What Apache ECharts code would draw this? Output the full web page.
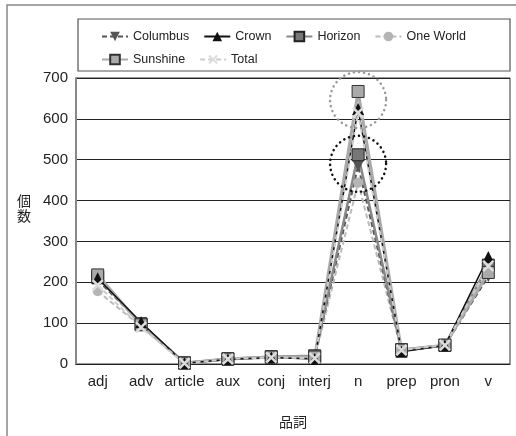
<!DOCTYPE html>
<html>
<head>
<meta charset="utf-8">
<script src="https://cdn.jsdelivr.net/npm/echarts@6/dist/echarts.min.js"></script>
<style>
  html, body { margin: 0; padding: 0; background: #fff; }
  #chart { width: 516px; height: 436px; }
</style>
</head>
<body>
<div id="chart"></div>
<script>
  // 品詞ごとの個数
  var categories = ['adj', 'adv', 'article', 'aux', 'conj', 'interj', 'n', 'prep', 'pron', 'v']
  var columbus = [205, 100, 2, 12, 17, 18, 485, 33, 45, 215]
  var crown = [210, 102, 2, 11, 16, 12, 624, 30, 45, 262]
  var horizon = [212, 98, 3, 13, 18, 20, 512, 35, 46, 242]
  var oneWorld = [178, 92, 2, 11, 15, 14, 444, 32, 44, 220]
  var sunshine = [218, 96, 2, 12, 17, 17, 667, 34, 46, 224]
  var total = [193, 90, 2, 12, 16, 14, 615, 34, 46, 240]
  var yTicks = [0, 100, 200, 300, 400, 500, 600, 700]
  // 点線の丸（注釈）
  var circleGray = ['n', 646]
  var circleBlack = ['n', 490]

  var font = 'Liberation Sans'
  var crossPath = 'path://M0,1.5L1.5,0L5,3.5L8.5,0L10,1.5L6.5,5L10,8.5L8.5,10L5,6.5L1.5,10L0,8.5L3.5,5Z'
  var legendBase = {
    left: 96,
    itemWidth: 26,
    itemHeight: 12,
    itemGap: 14,
    textStyle: { fontFamily: font, fontSize: 12.5, color: '#222' }
  }

  var chart = echarts.init(document.getElementById('chart'))
  var option = {
    animation: false,
    graphic: [
      { type: 'rect', shape: { x: 7, y: 5, width: 520, height: 440 }, style: { fill: 'none', stroke: '#888', lineWidth: 1.5 } },
      { type: 'rect', shape: { x: 78, y: 19, width: 432, height: 52 }, style: { fill: 'none', stroke: '#555', lineWidth: 1.2 } },
      { type: 'text', left: 17, top: 193, style: { text: '個\n数', font: '14px "Noto Sans CJK JP"', fill: '#222', lineHeight: 15 } }
    ],
    legend: [
      Object.assign({}, legendBase, { top: 25, data: ['Columbus', 'Crown', 'Horizon', 'One World'] }),
      Object.assign({}, legendBase, { top: 48, data: ['Sunshine', 'Total'] })
    ],
    grid: {
      left: 76,
      right: 6,
      top: 78,
      bottom: 72,
      show: true,
      borderColor: '#333',
      borderWidth: 1
    },
    xAxis: {
      type: 'category',
      data: categories,
      name: '品詞',
      nameLocation: 'middle',
      nameGap: 51,
      nameTextStyle: { fontFamily: 'Noto Sans CJK JP', fontSize: 14, color: '#222' },
      axisLine: { lineStyle: { color: '#222', width: 1.2 } },
      axisTick: { inside: true, length: 6, lineStyle: { color: '#444' } },
      axisLabel: { fontFamily: font, fontSize: 15, color: '#222', margin: 10, interval: 0 }
    },
    yAxis: {
      type: 'value',
      min: 0,
      max: 700,
      interval: 100,
      axisLine: { show: true, lineStyle: { color: '#888', width: 2 } },
      axisTick: { show: false },
      axisLabel: { fontFamily: font, fontSize: 15, color: '#222', margin: 8,
        formatter: function (v) { return yTicks.indexOf(v) >= 0 ? String(v) : '' } },
      splitLine: { lineStyle: { color: '#222', width: 1 } }
    },
    series: [
      {
        name: 'One World', type: 'line', data: oneWorld,
        symbol: 'circle', symbolSize: 10,
        lineStyle: { color: '#bbb', width: 2, type: [5, 3] },
        itemStyle: { color: '#b5b5b5' }
      },
      {
        name: 'Columbus', type: 'line', data: columbus,
        symbol: 'triangle', symbolRotate: 180, symbolSize: 12,
        lineStyle: { color: '#555', width: 2, type: [5, 3] },
        itemStyle: { color: '#555' },
        markPoint: {
          symbol: 'circle', symbolSize: 56, silent: true,
          label: { show: false },
          itemStyle: { color: 'rgba(0,0,0,0)', borderColor: '#111', borderWidth: 2.5, borderType: [0.1, 5], borderCap: 'round' },
          data: [{ coord: circleBlack }]
        }
      },
      {
        name: 'Horizon', type: 'line', data: horizon,
        symbol: 'rect', symbolSize: 12,
        lineStyle: { color: '#888', width: 2.5 },
        itemStyle: { color: '#777', borderColor: '#222', borderWidth: 1 }
      },
      {
        name: 'Sunshine', type: 'line', data: sunshine,
        symbol: 'rect', symbolSize: 12,
        lineStyle: { color: '#aaa', width: 3 },
        itemStyle: { color: '#aaa', borderColor: '#333', borderWidth: 1 },
        markPoint: {
          symbol: 'circle', symbolSize: 56, silent: true,
          label: { show: false },
          itemStyle: { color: 'rgba(0,0,0,0)', borderColor: '#999', borderWidth: 2.5, borderType: [0.1, 5], borderCap: 'round' },
          data: [{ coord: circleGray }]
        }
      },
      {
        name: 'Crown', type: 'line', data: crown,
        symbol: 'triangle', symbolSize: 12,
        lineStyle: { color: '#111', width: 1.5 },
        itemStyle: { color: '#111' }
      },
      {
        name: 'Total', type: 'line', data: total,
        symbol: crossPath, symbolSize: 12,
        lineStyle: { color: '#ccc', width: 2, type: [5, 3] },
        itemStyle: { color: '#ddd' }
      }
    ]
  }
  chart.setOption(option)
</script>
</body>
</html>
